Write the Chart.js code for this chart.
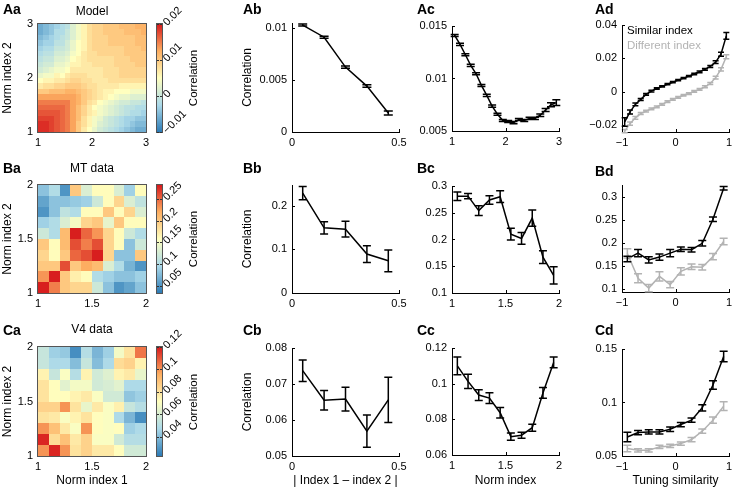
<!DOCTYPE html>
<html><head><meta charset="utf-8">
<script src="https://cdn.jsdelivr.net/npm/chart.js@4.4.1/dist/chart.umd.min.js"></script>
<style>
html,body{margin:0;padding:0;background:#fff;}
body{width:732px;height:490px;position:relative;overflow:hidden;font-family:'Liberation Sans',Arial,sans-serif;}
canvas{position:absolute;}
.lbl{position:absolute;white-space:nowrap;line-height:1;color:#000;}
</style></head><body>
<script>
// ---------------- DATA ----------------
const colormapStops = ['#2c7bb6','#abd9e9','#ffffbf','#fdae61','#d7191c'];

// Aa: model correlation matrix (units of 0.001), rows from top (index 2.95) to bottom (1.05)
const modelCenters = [1.05,1.15,1.25,1.35,1.45,1.55,1.65,1.75,1.85,1.95,2.05,2.15,2.25,2.35,2.45,2.55,2.65,2.75,2.85,2.95];
const modelCorrPerMille = [
 [-6,-5,-4,-3,-2,-1,2,4,6,8,9,9,10,10,10,11,11,11,12,12],
 [-6,-5,-4,-2,-2,0,2,4,6,8,9,9,10,10,10,10,11,11,11,12],
 [-5,-4,-3,-2,-1,0,2,4,6,8,9,9,9,10,10,10,10,10,11,11],
 [-4,-3,-3,-1,-1,1,3,5,6,8,9,9,9,10,10,10,10,10,11,11],
 [-3,-2,-2,0,0,1,3,5,6,8,9,9,9,9,9,9,10,10,10,11],
 [-2,-1,-1,1,1,2,4,5,7,8,8,9,9,9,9,9,10,10,10,10],
 [-1,0,0,2,2,3,5,6,7,8,8,8,8,8,9,9,9,10,10,10],
 [0,1,1,3,3,4,6,6,7,7,8,8,8,8,9,9,9,9,10,10],
 [1,2,3,4,4,5,7,7,7,7,7,7,8,8,8,9,9,9,9,9],
 [3,4,4,6,5,7,8,8,8,7,7,7,8,8,8,9,9,9,9,9],
 [5,6,6,7,7,8,9,9,8,8,7,7,7,8,8,8,8,8,8,8],
 [7,8,8,9,9,10,10,10,9,8,8,7,7,7,7,6,6,6,6,6],
 [10,10,11,11,11,12,12,11,10,9,8,7,6,6,5,5,5,4,4,4],
 [13,13,13,13,13,13,13,12,10,9,8,7,6,5,4,3,3,2,2,2],
 [15,15,15,15,15,15,13,12,10,8,7,5,4,3,2,1,1,0,0,-1],
 [16,16,16,16,16,15,13,11,9,7,5,4,3,2,1,0,-1,-1,-2,-2],
 [17,17,17,17,16,15,13,11,9,7,6,4,3,2,1,0,-1,-2,-2,-3],
 [18,18,18,17,16,15,13,11,8,6,4,3,1,0,-1,-2,-3,-3,-4,-4],
 [19,19,18,17,16,15,13,10,8,6,4,2,1,0,-1,-2,-3,-4,-5,-5],
 [19,19,18,17,16,15,13,10,7,5,3,1,0,-1,-2,-3,-4,-5,-6,-6]
];
const modelScaleMin = -0.01, modelScaleMax = 0.02;
const modelCbTicks = [-0.01,0,0.01,0.02];
const modelCbLabels = ['\u22120.01','0','0.01','0.02'];
const modelAxisTicks = [1,2,3], modelAxisLabels = ['1','2','3'];

// Ba: MT data matrix, rows top (1.95) to bottom (1.05)
const dataCenters = [1.05,1.15,1.25,1.35,1.45,1.55,1.65,1.75,1.85,1.95];
const mtMatrix = [
 [0.08,0.10,0.05,0.20,0.13,0.16,0.16,0.13,0.09,0.16],
 [0.06,0.08,0.08,0.085,0.09,0.12,0.16,0.19,0.13,0.11],
 [0.05,0.08,0.11,0.10,0.16,0.16,0.20,0.16,0.19,0.13],
 [0.09,0.10,0.13,0.15,0.19,0.20,0.14,0.20,0.16,0.16],
 [0.12,0.10,0.21,0.28,0.25,0.23,0.19,0.16,0.12,0.10],
 [0.20,0.16,0.21,0.26,0.24,0.26,0.19,0.16,0.08,0.12],
 [0.19,0.16,0.20,0.25,0.26,0.28,0.19,0.08,0.08,0.20],
 [0.20,0.20,0.26,0.20,0.22,0.21,0.13,0.10,0.07,0.05],
 [0.23,0.28,0.20,0.17,0.16,0.10,0.09,0.08,0.08,0.09],
 [0.28,0.24,0.20,0.19,0.19,0.12,0.08,0.05,0.06,0.08]
];
const mtScaleMin = 0.033, mtScaleMax = 0.282;
const mtCbTicks = [0.05,0.1,0.15,0.2,0.25], mtCbLabels = ['0.05','0.1','0.15','0.2','0.25'];

// Ca: V4 data matrix
const v4Matrix = [
 [0.055,0.045,0.043,0.028,0.05,0.038,0.045,0.068,0.08,0.105],
 [0.055,0.048,0.048,0.04,0.055,0.04,0.048,0.082,0.085,0.075],
 [0.075,0.055,0.07,0.05,0.075,0.058,0.062,0.075,0.078,0.065],
 [0.08,0.072,0.063,0.068,0.068,0.058,0.06,0.063,0.048,0.048],
 [0.08,0.072,0.072,0.075,0.078,0.07,0.058,0.058,0.042,0.045],
 [0.085,0.085,0.1,0.08,0.065,0.078,0.07,0.076,0.055,0.05],
 [0.08,0.078,0.07,0.075,0.08,0.072,0.07,0.048,0.038,0.028],
 [0.1,0.09,0.078,0.07,0.1,0.072,0.07,0.072,0.045,0.048],
 [0.118,0.082,0.09,0.078,0.085,0.07,0.07,0.058,0.05,0.05],
 [0.1,0.118,0.1,0.08,0.085,0.078,0.078,0.072,0.058,0.058]
];
const v4ScaleMin = 0.023, v4ScaleMax = 0.12;
const v4CbTicks = [0.04,0.06,0.08,0.1,0.12], v4CbLabels = ['0.04','0.06','0.08','0.1','0.12'];
const dataAxisTicks = [1,1.5,2], dataAxisLabels = ['1','1.5','2'];

// Column b: correlation vs |index1 - index2|
const diffX = [0.05,0.15,0.25,0.35,0.45];
const abY = [0.0103,0.00913,0.00625,0.00442,0.00183];
const abErr = [0.0001,0.0001,0.0001,0.00012,0.0002];
const bbY = [0.2285,0.149,0.146,0.089,0.0736];
const bbErr = [0.015,0.014,0.018,0.019,0.025];
const cbY = [0.0737,0.0655,0.0658,0.0569,0.0656];
const cbErr = [0.003,0.0027,0.0033,0.0045,0.0063];
const diffTicks = [0,0.5], diffLabels = ['0','0.5'];

// Column c: correlation vs norm index
const normX20 = [1.05,1.15,1.25,1.35,1.45,1.55,1.65,1.75,1.85,1.95,2.05,2.15,2.25,2.35,2.45,2.55,2.65,2.75,2.85,2.95];
const acY = [0.0141,0.01325,0.01226,0.01125,0.01045,0.00934,0.00839,0.00737,0.0066,0.006,0.0059,0.0058,0.0061,0.006,0.0062,0.0062,0.0065,0.0070,0.0075,0.0077];
const acErr = [0.0001,0.0001,0.0001,0.0001,0.0001,0.0001,0.0001,0.0001,0.0001,0.0001,0.0001,0.0001,0.0001,0.0001,0.0001,0.0001,0.00012,0.00015,0.0002,0.00027];
const normX10 = [1.05,1.15,1.25,1.35,1.45,1.55,1.65,1.75,1.85,1.95];
const bcY = [0.281,0.281,0.254,0.274,0.280,0.210,0.202,0.240,0.167,0.133];
const bcErr = [0.008,0.005,0.009,0.008,0.011,0.011,0.011,0.015,0.012,0.016];
const ccY = [0.110,0.1013,0.0936,0.0919,0.0837,0.0703,0.0711,0.0753,0.0948,0.1119];
const ccErr = [0.005,0.004,0.003,0.003,0.003,0.002,0.0017,0.002,0.003,0.003];

// Column d: correlation vs tuning similarity
const tuneX20 = [-0.95,-0.85,-0.75,-0.65,-0.55,-0.45,-0.35,-0.25,-0.15,-0.05,0.05,0.15,0.25,0.35,0.45,0.55,0.65,0.75,0.85,0.95];
const adSimilar = [-0.018,-0.012,-0.0075,-0.0045,-0.0015,0.0005,0.002,0.0033,0.0046,0.0058,0.007,0.0082,0.0094,0.0107,0.012,0.0135,0.0152,0.0178,0.0225,0.0335];
const adSimilarErr = [0.0025,0.0012,0.0008,0.0006,0.0005,0.0005,0.0004,0.0004,0.0004,0.0004,0.0004,0.0004,0.0004,0.0004,0.0005,0.0005,0.0006,0.0008,0.0012,0.002];
const adDifferent = [-0.0235,-0.019,-0.0155,-0.013,-0.0115,-0.0102,-0.009,-0.0075,-0.0058,-0.0045,-0.0033,-0.002,-0.001,0.0003,0.0015,0.003,0.005,0.0085,0.0135,0.021];
const adDifferentErr = [0.001,0.001,0.0008,0.0006,0.0005,0.0005,0.0005,0.0005,0.0005,0.0005,0.0005,0.0005,0.0005,0.0005,0.0005,0.0006,0.0006,0.0008,0.001,0.0012];
const tuneX10 = [-0.9,-0.7,-0.5,-0.3,-0.1,0.1,0.3,0.5,0.7,0.9];
const bdSimilar = [0.165,0.1776,0.163,0.169,0.1776,0.186,0.185,0.199,0.2515,0.319];
const bdSimilarErr = [0.006,0.008,0.007,0.007,0.008,0.005,0.005,0.006,0.005,0.004];
const bdDifferent = [0.177,0.123,0.1015,0.127,0.109,0.138,0.148,0.147,0.170,0.203];
const bdDifferentErr = [0.01,0.01,0.008,0.01,0.007,0.008,0.006,0.006,0.007,0.007];
const cdSimilar = [0.0678,0.0719,0.0725,0.0725,0.075,0.0794,0.0835,0.095,0.1163,0.143];
const cdSimilarErr = [0.0045,0.002,0.002,0.002,0.002,0.002,0.002,0.003,0.004,0.005];
const cdDifferent = [0.057,0.0553,0.0553,0.0585,0.0594,0.0616,0.0654,0.0732,0.0835,0.0966];
const cdDifferentErr = [0.003,0.0015,0.0015,0.0015,0.0015,0.0015,0.002,0.002,0.003,0.004];
const tuneTicks = [-1,0,1], tuneLabels = ['\u22121','0','1'];
const legendLabels = ['Similar index','Different index'];
const seriesColors = ['#000000','#b3b3b3'];

// ---------------- RENDERING ----------------
Chart.defaults.font.family = "'Liberation Sans', Arial, sans-serif";
Chart.defaults.font.size = 11;
Chart.defaults.color = '#000';

function hexToRgb(h){ return [parseInt(h.slice(1,3),16),parseInt(h.slice(3,5),16),parseInt(h.slice(5,7),16)]; }
const cmapRgb = colormapStops.map(hexToRgb);
function heatColor(v, lo, hi){
  let t = (v-lo)/(hi-lo); t = Math.max(0, Math.min(1, t));
  const s = t*(cmapRgb.length-1); const k = Math.min(Math.floor(s), cmapRgb.length-2); const f = s-k;
  const a = cmapRgb[k], b = cmapRgb[k+1];
  return 'rgb('+Math.round(a[0]+(b[0]-a[0])*f)+','+Math.round(a[1]+(b[1]-a[1])*f)+','+Math.round(a[2]+(b[2]-a[2])*f)+')';
}

function makeCanvas(left, top, w, h){
  const c = document.createElement('canvas');
  c.width = w; c.height = h;
  c.style.left = left+'px'; c.style.top = top+'px'; c.style.width = w+'px'; c.style.height = h+'px';
  document.body.appendChild(c);
  return c;
}
function fixedTicks(vals){ return s => { s.ticks = vals.map(v => ({value: v})); }; }

function addText(txt, x, y, o){
  o = o || {};
  const d = document.createElement('div'); d.className = 'lbl'; d.textContent = txt;
  d.style.left = x+'px'; d.style.top = y+'px'; d.style.fontSize = (o.size||12)+'px';
  if (o.bold) d.style.fontWeight = 'bold';
  if (o.color) d.style.color = o.color;
  let tf = o.center ? 'translate(-50%,-50%)' : 'translate(0,-50%)';
  if (o.rot) tf += ' rotate('+o.rot+'deg)';
  d.style.transform = tf;
  document.body.appendChild(d);
}

const errorBarPlugin = {
  id: 'errbars',
  afterDatasetsDraw(chart){
    const {ctx, scales:{x, y}} = chart;
    const dsets = chart.data.datasets;
    for (let d = dsets.length-1; d >= 0; d--){
      const ds = dsets[d]; if (!ds.err) continue;
      ctx.save(); ctx.strokeStyle = ds.borderColor; ctx.lineWidth = 1.5; ctx.lineCap = 'butt';
      ctx.beginPath();
      ds.data.forEach((p, i) => {
        const px = x.getPixelForValue(p.x);
        const ylo = y.getPixelForValue(p.y - ds.err[i]);
        const yhi = y.getPixelForValue(p.y + ds.err[i]);
        ctx.moveTo(px, ylo); ctx.lineTo(px, yhi);
        ctx.moveTo(px-ds.cap, ylo); ctx.lineTo(px+ds.cap, ylo);
        ctx.moveTo(px-ds.cap, yhi); ctx.lineTo(px+ds.cap, yhi);
      });
      ctx.stroke(); ctx.restore();
    }
  }
};
const inwardTickPlugin = {
  id: 'inTicks',
  afterDraw(chart){
    const {ctx, chartArea:a, scales:{x, y}} = chart;
    ctx.save(); ctx.strokeStyle = '#000'; ctx.lineWidth = 1; ctx.beginPath();
    x.ticks.forEach(t => { const px = Math.round(x.getPixelForValue(t.value))+0.5; ctx.moveTo(px, a.bottom); ctx.lineTo(px, a.bottom-3); });
    y.ticks.forEach(t => { const py = Math.round(y.getPixelForValue(t.value))+0.5; ctx.moveTo(a.left, py); ctx.lineTo(a.left+3, py); });
    ctx.stroke(); ctx.restore();
  }
};
const heatPlugin = {
  id: 'heat',
  beforeDatasetsDraw(chart){
    const ds = chart.data.datasets[0];
    const {ctx, chartArea:a, scales:{x, y}} = chart;
    ctx.save(); ctx.beginPath(); ctx.rect(a.left, a.top, a.right-a.left, a.bottom-a.top); ctx.clip();
    ds.data.forEach(c => {
      const x0 = Math.round(x.getPixelForValue(c.x-ds.hw)), x1 = Math.round(x.getPixelForValue(c.x+ds.hw));
      const y0 = Math.round(y.getPixelForValue(c.y+ds.hw)), y1 = Math.round(y.getPixelForValue(c.y-ds.hw));
      ctx.fillStyle = heatColor(c.v, ds.vmin, ds.vmax);
      ctx.fillRect(x0, y0, x1-x0, y1-y0);
    });
    ctx.restore();
    ctx.save(); ctx.strokeStyle = '#555'; ctx.lineWidth = 1;
    ctx.strokeRect(a.left-0.5, a.top-0.5, a.right-a.left+1, a.bottom-a.top+1);
    ctx.restore();
  }
};
const colorbarPlugin = {
  id: 'cbar',
  beforeDatasetsDraw(chart){
    const {ctx, chartArea:a, scales:{y}} = chart;
    const g = ctx.createLinearGradient(0, y.getPixelForValue(y.min), 0, y.getPixelForValue(y.max));
    colormapStops.forEach((c, i) => g.addColorStop(i/(colormapStops.length-1), c));
    ctx.save(); ctx.fillStyle = g; ctx.fillRect(a.left, a.top, a.right-a.left, a.bottom-a.top);
    ctx.strokeStyle = '#555'; ctx.lineWidth = 1;
    ctx.strokeRect(a.left-0.5, a.top-0.5, a.right-a.left+1, a.bottom-a.top+1);
    ctx.strokeStyle = '#333'; ctx.beginPath();
    y.ticks.forEach(t => { const py = Math.round(y.getPixelForValue(t.value))+0.5; ctx.moveTo(a.right-2, py); ctx.lineTo(a.right, py); ctx.moveTo(a.left, py); ctx.lineTo(a.left+2, py); });
    ctx.stroke(); ctx.restore();
  }
};

function axisCfg(min, max, ticks, labels, fitFn, title, pad){
  return {
    type: 'linear', min: min, max: max,
    afterBuildTicks: fixedTicks(ticks),
    afterFit: fitFn,
    ticks: { autoSkip: false, maxRotation: 0, minRotation: 0, padding: pad, callback: (v, i) => labels[i] },
    grid: { display: false, drawTicks: false },
    border: { display: true, color: '#000', width: 1 },
    title: { display: !!title, text: title || '', font: {size: 12}, padding: {top: 0, bottom: 0} }
  };
}

function linePanel(p){
  const yw = 52, padTop = 12, padRight = p.padRight || 12;
  const xh = p.xh || 30;
  const W = yw + (p.right-p.left) + padRight;
  const H = padTop + (p.bottom-p.top) + xh;
  const cv = makeCanvas(p.left-yw, p.top-padTop, W, H);
  new Chart(cv, {
    type: 'line',
    data: { datasets: p.series.map(s => ({
      data: s.x.map((xv, i) => ({x: xv, y: s.y[i]})),
      err: s.err, cap: p.cap || 4,
      borderColor: s.color, backgroundColor: s.color, borderWidth: 1.5,
      pointRadius: 0, pointHoverRadius: 0, tension: 0, fill: false
    })) },
    options: {
      responsive: false, animation: false, devicePixelRatio: 1, events: [],
      layout: { padding: { top: padTop, right: padRight, left: 0, bottom: 0 } },
      plugins: { legend: {display: false}, tooltip: {enabled: false} },
      scales: {
        x: axisCfg(p.xMin, p.xMax, p.xTicks, p.xLabels, s => { s.height = xh; s.paddingLeft = 0; s.paddingRight = 0; }, p.xTitle, 4),
        y: axisCfg(p.yMin, p.yMax, p.yTicks, p.yLabels, s => { s.width = yw; s.paddingTop = 0; s.paddingBottom = 0; }, p.yTitle, 5)
      }
    },
    plugins: [errorBarPlugin, inwardTickPlugin]
  });
}

function heatPanel(p){
  const yw = 38, padTop = 12, padRight = 8;
  const xh = p.xh || 30;
  const W = yw + (p.right-p.left) + padRight;
  const H = padTop + (p.bottom-p.top) + xh;
  const cv = makeCanvas(p.left-yw, p.top-padTop, W, H);
  const cells = [];
  const n = p.centers.length;
  p.rows.forEach((row, r) => row.forEach((v, c) => cells.push({x: p.centers[c], y: p.centers[n-1-r], v: v*(p.unit||1)})));
  const xs = axisCfg(p.min, p.max, p.ticks, p.labels, s => { s.height = xh; s.paddingLeft = 0; s.paddingRight = 0; }, p.xTitle, 4);
  const ys = axisCfg(p.min, p.max, p.ticks, p.labels, s => { s.width = yw; s.paddingTop = 0; s.paddingBottom = 0; }, 'Norm index 2', 5);
  xs.border.display = false; ys.border.display = false;
  new Chart(cv, {
    type: 'scatter',
    data: { datasets: [{ data: cells, pointRadius: 0, pointHoverRadius: 0, hw: p.halfBin, vmin: p.vMin, vmax: p.vMax }] },
    options: {
      responsive: false, animation: false, devicePixelRatio: 1, events: [],
      layout: { padding: { top: padTop, right: padRight, left: 0, bottom: 0 } },
      plugins: { legend: {display: false}, tooltip: {enabled: false} },
      scales: { x: xs, y: ys }
    },
    plugins: [heatPlugin]
  });
}

function colorbarPanel(p){
  const padLeft = 4, yw = 44, padTop = 28, padBottom = 8;
  const W = padLeft + (p.right-p.left) + yw;
  const H = padTop + (p.bottom-p.top) + padBottom;
  const cv = makeCanvas(p.left-padLeft, p.top-padTop, W, H);
  new Chart(cv, {
    type: 'scatter', data: { datasets: [] },
    options: {
      responsive: false, animation: false, devicePixelRatio: 1, events: [],
      layout: { padding: { top: padTop, bottom: padBottom, left: padLeft, right: 0 } },
      plugins: { legend: {display: false}, tooltip: {enabled: false} },
      scales: {
        x: { display: false, min: 0, max: 1 },
        y: { type: 'linear', position: 'right', min: p.vMin, max: p.vMax,
             afterBuildTicks: fixedTicks(p.ticks),
             afterFit: s => { s.width = yw; s.paddingTop = 0; s.paddingBottom = 0; },
             ticks: { autoSkip: false, minRotation: 45, maxRotation: 45, padding: 3, callback: (v, i) => p.labels[i] },
             grid: { display: false, drawTicks: false }, border: { display: false } }
      }
    },
    plugins: [colorbarPlugin]
  });
}

// ---- heatmaps ----
heatPanel({left:38,right:146,top:24,bottom:132,min:1,max:3,ticks:modelAxisTicks,labels:modelAxisLabels,centers:modelCenters,rows:modelCorrPerMille,unit:0.001,halfBin:0.05,vMin:modelScaleMin,vMax:modelScaleMax});
heatPanel({left:38,right:146,top:185,bottom:293,min:1,max:2,ticks:dataAxisTicks,labels:dataAxisLabels,centers:dataCenters,rows:mtMatrix,halfBin:0.05,vMin:mtScaleMin,vMax:mtScaleMax});
heatPanel({left:38,right:146,top:347,bottom:456,min:1,max:2,ticks:dataAxisTicks,labels:dataAxisLabels,centers:dataCenters,rows:v4Matrix,halfBin:0.05,vMin:v4ScaleMin,vMax:v4ScaleMax,xTitle:'Norm index 1',xh:32});
colorbarPanel({left:157,right:162,top:24,bottom:132,vMin:modelScaleMin,vMax:modelScaleMax,ticks:modelCbTicks,labels:modelCbLabels});
colorbarPanel({left:157,right:162,top:185,bottom:293,vMin:mtScaleMin,vMax:mtScaleMax,ticks:mtCbTicks,labels:mtCbLabels});
colorbarPanel({left:157,right:162,top:347,bottom:456,vMin:v4ScaleMin,vMax:v4ScaleMax,ticks:v4CbTicks,labels:v4CbLabels});

// ---- column b ----
linePanel({left:292,right:399,top:23,bottom:132,xMin:0,xMax:0.5,xTicks:diffTicks,xLabels:diffLabels,yMin:0,yMax:0.0105,yTicks:[0,0.005,0.01],yLabels:['0','0.005','0.01'],yTitle:'Correlation',cap:4.5,
  series:[{x:diffX,y:abY,err:abErr,color:seriesColors[0]}]});
linePanel({left:292,right:399,top:185,bottom:293,xMin:0,xMax:0.5,xTicks:diffTicks,xLabels:diffLabels,yMin:0,yMax:0.247,yTicks:[0,0.1,0.2],yLabels:['0','0.1','0.2'],yTitle:'Correlation',cap:4,
  series:[{x:diffX,y:bbY,err:bbErr,color:seriesColors[0]}]});
linePanel({left:292,right:399,top:348,bottom:456,xh:32,xMin:0,xMax:0.5,xTicks:diffTicks,xLabels:diffLabels,yMin:0.05,yMax:0.08,yTicks:[0.05,0.06,0.07,0.08],yLabels:['0.05','0.06','0.07','0.08'],yTitle:'Correlation',xTitle:'| Index 1 \u2013 index 2 |',cap:4,
  series:[{x:diffX,y:cbY,err:cbErr,color:seriesColors[0]}]});

// ---- column c ----
linePanel({left:452,right:559,top:26,bottom:131,xMin:1,xMax:3,xTicks:[1,2,3],xLabels:['1','2','3'],yMin:0.005,yMax:0.015,yTicks:[0.005,0.01,0.015],yLabels:['0.005','0.01','0.015'],cap:4,
  series:[{x:normX20,y:acY,err:acErr,color:seriesColors[0]}]});
linePanel({left:452,right:559,top:186,bottom:293,xMin:1,xMax:2,xTicks:dataAxisTicks,xLabels:dataAxisLabels,yMin:0.1,yMax:0.3,yTicks:[0.1,0.15,0.2,0.25,0.3],yLabels:['0.1','0.15','0.2','0.25','0.3'],cap:4,
  series:[{x:normX10,y:bcY,err:bcErr,color:seriesColors[0]}]});
linePanel({left:452,right:559,top:348,bottom:455,xh:33,xMin:1,xMax:2,xTicks:dataAxisTicks,xLabels:dataAxisLabels,yMin:0.06,yMax:0.12,yTicks:[0.06,0.08,0.1,0.12],yLabels:['0.06','0.08','0.1','0.12'],xTitle:'Norm index',cap:4,
  series:[{x:normX10,y:ccY,err:ccErr,color:seriesColors[0]}]});

// ---- column d ----
linePanel({left:622,right:729,top:25,bottom:132,padRight:10,xMin:-1,xMax:1,xTicks:tuneTicks,xLabels:tuneLabels,yMin:-0.024,yMax:0.04,yTicks:[-0.02,0,0.02,0.04],yLabels:['\u22120.02','0','0.02','0.04'],cap:3,
  series:[{x:tuneX20,y:adSimilar,err:adSimilarErr,color:seriesColors[0]},{x:tuneX20,y:adDifferent,err:adDifferentErr,color:seriesColors[1]}]});
linePanel({left:622,right:729,top:185,bottom:292,padRight:10,xMin:-1,xMax:1,xTicks:tuneTicks,xLabels:tuneLabels,yMin:0.093,yMax:0.326,yTicks:[0.1,0.15,0.2,0.25,0.3],yLabels:['0.1','0.15','0.2','0.25','0.3'],cap:4,
  series:[{x:tuneX10,y:bdSimilar,err:bdSimilarErr,color:seriesColors[0]},{x:tuneX10,y:bdDifferent,err:bdDifferentErr,color:seriesColors[1]}]});
linePanel({left:622,right:729,top:349,bottom:456,xh:32,padRight:10,xMin:-1,xMax:1,xTicks:tuneTicks,xLabels:tuneLabels,yMin:0.05,yMax:0.15,yTicks:[0.05,0.1,0.15],yLabels:['0.05','0.1','0.15'],xTitle:'Tuning similarity',cap:4,
  series:[{x:tuneX10,y:cdSimilar,err:cdSimilarErr,color:seriesColors[0]},{x:tuneX10,y:cdDifferent,err:cdDifferentErr,color:seriesColors[1]}]});

// ---- text ----
[['Aa',3,8.5],['Ab',243,8.5],['Ac',417,8.5],['Ad',595,8.5],
 ['Ba',3,168],['Bb',243,168],['Bc',417,168],['Bd',595,171],
 ['Ca',3,330],['Cb',243,330],['Cc',417,330],['Cd',595,330]].forEach(t => addText(t[0], t[1], t[2], {bold:true, size:14}));
addText('Model', 92, 10.5, {center:true});
addText('MT data', 92, 168, {center:true});
addText('V4 data', 92, 329, {center:true});
addText('Correlation', 194, 78, {center:true, rot:-90, size:11.5});
addText('Correlation', 194, 239, {center:true, rot:-90, size:11.5});
addText('Correlation', 194, 401.5, {center:true, rot:-90, size:11.5});
addText(legendLabels[0], 627, 30.5, {color:seriesColors[0], size:11.5});
addText(legendLabels[1], 627, 46, {color:seriesColors[1], size:11.5});
</script>
</body></html>
